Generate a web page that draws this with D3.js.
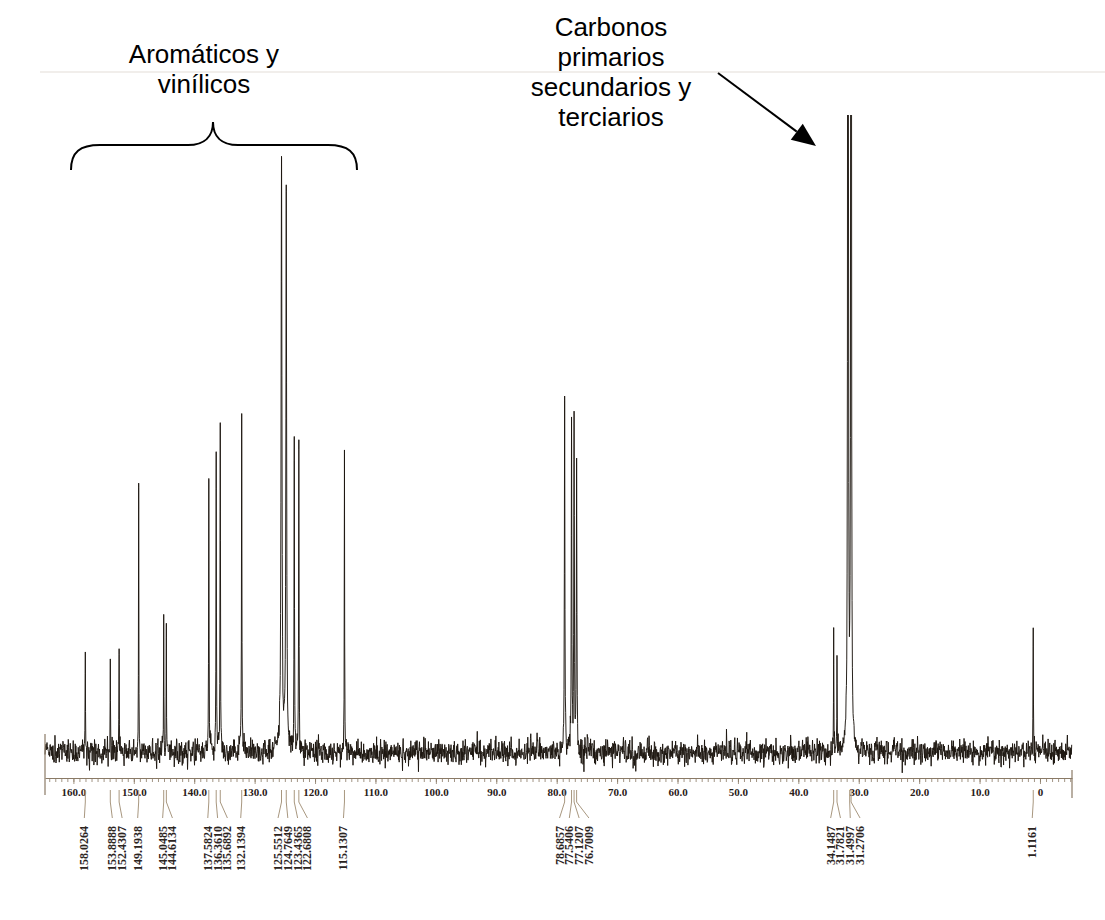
<!DOCTYPE html>
<html>
<head>
<meta charset="utf-8">
<script src="https://cdn.jsdelivr.net/npm/d3@7"></script>
<style>
  html, body { margin: 0; padding: 0; background: #fff; }
  svg { display: block; }
</style>
</head>
<body>
<div id="chart"></div>
<script>
// ---- Data ----
// Peak positions (ppm) as they appear in the drawing
const peakPpm = [158.0264, 153.8888, 152.4307, 149.1938, 145.0485, 144.6134,
  137.5824, 136.3610, 135.6892, 132.1394, 125.5512, 124.7649, 123.4365, 122.6808,
  115.1307, 78.6857, 77.5406, 77.1207, 76.7009, 34.1487, 33.6, 31.78, 31.27, 1.1161];
// Peak intensities (0 = baseline, 100 = top of plotting area; tall ones are clipped)
const peakHeight = [15.7, 14.6, 16.2, 42.2, 21.5, 20.1,
  42.7, 46.9, 51.5, 53.1, 92.8, 87.9, 49.0, 48.7,
  47.4, 55.7, 51.6, 52.1, 45.2, 19.3, 14.8, 400, 400, 19.5];
// Half-widths (ppm) of each line
const peakWidth = [0.03, 0.03, 0.03, 0.03, 0.03, 0.03,
  0.04, 0.04, 0.04, 0.04, 0.085, 0.07, 0.04, 0.04,
  0.03, 0.05, 0.05, 0.05, 0.05, 0.03, 0.03, 0.04, 0.04, 0.03];

// Printed peak labels and the ppm at which each leader line starts
const peakLabels = ["158.0264", "153.8888", "152.4307", "149.1938", "145.0485", "144.6134",
  "137.5824", "136.3610", "135.6892", "132.1394", "125.5512", "124.7649", "123.4365", "122.6808",
  "115.1307", "78.6857", "77.5406", "77.1207", "76.7009", "34.1487", "31.7821", "31.4997", "31.2706", "1.1161"];
const leaderPpm = [158.0264, 153.8888, 152.4307, 149.1938, 145.0485, 144.6134,
  137.5824, 136.3610, 135.6892, 132.1394, 125.5512, 124.7649, 123.4365, 122.6808,
  115.1307, 78.6857, 77.5406, 77.1207, 76.7009, 34.1487, 33.6, 31.4997, 31.2706, 1.1161];

const majorTicks = [160, 150, 140, 130, 120, 110, 100, 90, 80, 70, 60, 50, 40, 30, 20, 10, 0];
const minorTicks = d3.range(164, -6, -1);
const ppmDomain = [164.7, -5.3];

const annotLeft = ["Aromáticos y", "vinílicos"];
const annotRight = ["Carbonos", "primarios", "secundarios y", "terciarios"];

// ---- Layout ----
const W = 1105, H = 920;
const svg = d3.select("#chart").append("svg").attr("width", W).attr("height", H);

const x = d3.scaleLinear().domain(ppmDomain).range([45, 1072]);
const y = d3.scaleLinear().domain([0, 100]).range([752, 115]);
const axisY = 778;

// faint scan edge at top of the page
svg.append("line").attr("x1", 40).attr("x2", 1105).attr("y1", 72).attr("y2", 72)
  .attr("stroke", "#ece8e4").attr("stroke-width", 1.5);

// ---- Spectrum ----
// baseline noise texture (deterministic seeded generator)
const noise = d3.randomNormal.source(d3.randomLcg(0.4271))(0, 0.95);
let pts = d3.range(ppmDomain[0], ppmDomain[1], -0.055).map(p => ({p, n: noise()}));
peakPpm.forEach(p => pts.push({p, n: 0}));
pts.sort((a, b) => b.p - a.p);
const spec = pts.map(d => {
  let v = d.n;
  for (let i = 0; i < peakPpm.length; i++) {
    const dx = d.p - peakPpm[i], w = peakWidth[i];
    v += peakHeight[i] * w * w / (dx * dx + w * w);
  }
  return [d.p, v];
});

svg.append("clipPath").attr("id", "plotclip").append("rect")
  .attr("x", 40).attr("y", 115).attr("width", 1040).attr("height", 660);

svg.append("path")
  .datum(spec)
  .attr("clip-path", "url(#plotclip)")
  .attr("fill", "none")
  .attr("stroke", "#1c1610")
  .attr("stroke-width", 0.95)
  .attr("stroke-linejoin", "round")
  .attr("d", d3.line().x(d => x(d[0])).y(d => y(d[1])));

// ---- Axis ----
const axColor = "#8a7a66";
const gMinor = svg.append("g").attr("transform", `translate(0,${axisY})`)
  .call(d3.axisBottom(x).tickValues(minorTicks).tickSize(4).tickSizeOuter(0).tickFormat(""));
gMinor.select(".domain").attr("stroke", axColor).attr("stroke-width", 1.2);
gMinor.selectAll(".tick line").attr("stroke", axColor).attr("stroke-width", 0.8);

const gMajor = svg.append("g").attr("transform", `translate(0,${axisY})`)
  .call(d3.axisBottom(x).tickValues(majorTicks).tickSize(6).tickSizeOuter(0).tickPadding(4)
    .tickFormat(d => d === 0 ? "0" : d.toFixed(1)));
gMajor.select(".domain").remove();
gMajor.selectAll(".tick line").attr("stroke", axColor).attr("stroke-width", 0.8);
gMajor.selectAll(".tick text")
  .attr("font-family", "'Liberation Serif', 'DejaVu Serif', serif")
  .attr("font-weight", "bold").attr("font-size", 11).attr("fill", "#2a2018");

// frame edges
svg.append("line").attr("x1", x(ppmDomain[0])).attr("x2", x(ppmDomain[0]))
  .attr("y1", 734).attr("y2", 795).attr("stroke", axColor).attr("stroke-width", 1.2);
svg.append("line").attr("x1", x(ppmDomain[1])).attr("x2", x(ppmDomain[1]))
  .attr("y1", 770).attr("y2", 798).attr("stroke", axColor).attr("stroke-width", 1.2);

// ---- Peak labels with leader lines ----
// clusters of labels are spread evenly and merged until nothing overlaps
const pitch = 9.8, shift = 3.5;
const order = d3.range(peakLabels.length).sort((a, b) => x(leaderPpm[a]) - x(leaderPpm[b]));
let clusters = order.map(i => ({ids: [i]}));
const place = c => {
  const m = d3.mean(c.ids, i => x(leaderPpm[i])) + (c.ids.length > 1 ? shift : 0);
  c.start = m - (c.ids.length - 1) / 2 * pitch;
  c.end = c.start + (c.ids.length - 1) * pitch;
};
clusters.forEach(place);
let merged = true;
while (merged) {
  merged = false;
  for (let k = 0; k < clusters.length - 1; k++) {
    if (clusters[k].end + pitch > clusters[k + 1].start) {
      clusters[k].ids = clusters[k].ids.concat(clusters[k + 1].ids);
      clusters.splice(k + 1, 1);
      place(clusters[k]);
      merged = true;
      break;
    }
  }
}
const labelX = new Array(peakLabels.length);
clusters.forEach(c => c.ids.forEach((i, k) => { labelX[i] = c.start + k * pitch; }));

const leadColor = "#a8977f";
const lab = svg.append("g");
peakLabels.forEach((t, i) => {
  const xp = x(leaderPpm[i]), xl = labelX[i];
  lab.append("path")
    .attr("d", `M${xp},790 L${xp},802 L${xl - 1},818`)
    .attr("fill", "none").attr("stroke", leadColor).attr("stroke-width", 1);
  lab.append("text")
    .attr("transform", `translate(${xl + 3},826) rotate(-90)`)
    .attr("text-anchor", "end")
    .attr("font-family", "'Liberation Serif', 'DejaVu Serif', serif")
    .attr("font-weight", "bold").attr("font-size", 12).attr("fill", "#2b241e")
    .text(t);
});

// ---- Annotations ----
const annFont = "'Liberation Sans', Arial, sans-serif";
svg.append("g").selectAll("text").data(annotLeft).join("text")
  .attr("x", 204).attr("y", (d, i) => 63 + i * 29.5)
  .attr("text-anchor", "middle").attr("font-family", annFont)
  .attr("font-size", 26).attr("fill", "#000").text(d => d);

svg.append("g").selectAll("text").data(annotRight).join("text")
  .attr("x", 611).attr("y", (d, i) => 36 + i * 30)
  .attr("text-anchor", "middle").attr("font-family", annFont)
  .attr("font-size", 26).attr("fill", "#000").text(d => d);

// curly brace over the aromatic region
svg.append("path")
  .attr("d", "M71,170 C71,152 80,145 100,145 L188,145 C205,145 213,136 213,122 " +
             "C213,136 221,145 238,145 L328,145 C348,145 357,152 357,170")
  .attr("fill", "none").attr("stroke", "#000").attr("stroke-width", 2);

// arrow toward the aliphatic peaks
const a0 = [718, 73], tip = [816, 146];
const dx = tip[0] - a0[0], dy = tip[1] - a0[1], L = Math.hypot(dx, dy);
const ux = dx / L, uy = dy / L, hl = 24, hw = 10;
const bx = tip[0] - ux * hl, by = tip[1] - uy * hl;
svg.append("line").attr("x1", a0[0]).attr("y1", a0[1]).attr("x2", bx).attr("y2", by)
  .attr("stroke", "#000").attr("stroke-width", 2);
svg.append("polygon")
  .attr("points", `${tip[0]},${tip[1]} ${bx - uy * hw},${by + ux * hw} ${bx + uy * hw},${by - ux * hw}`)
  .attr("fill", "#000");
</script>
</body>
</html>
